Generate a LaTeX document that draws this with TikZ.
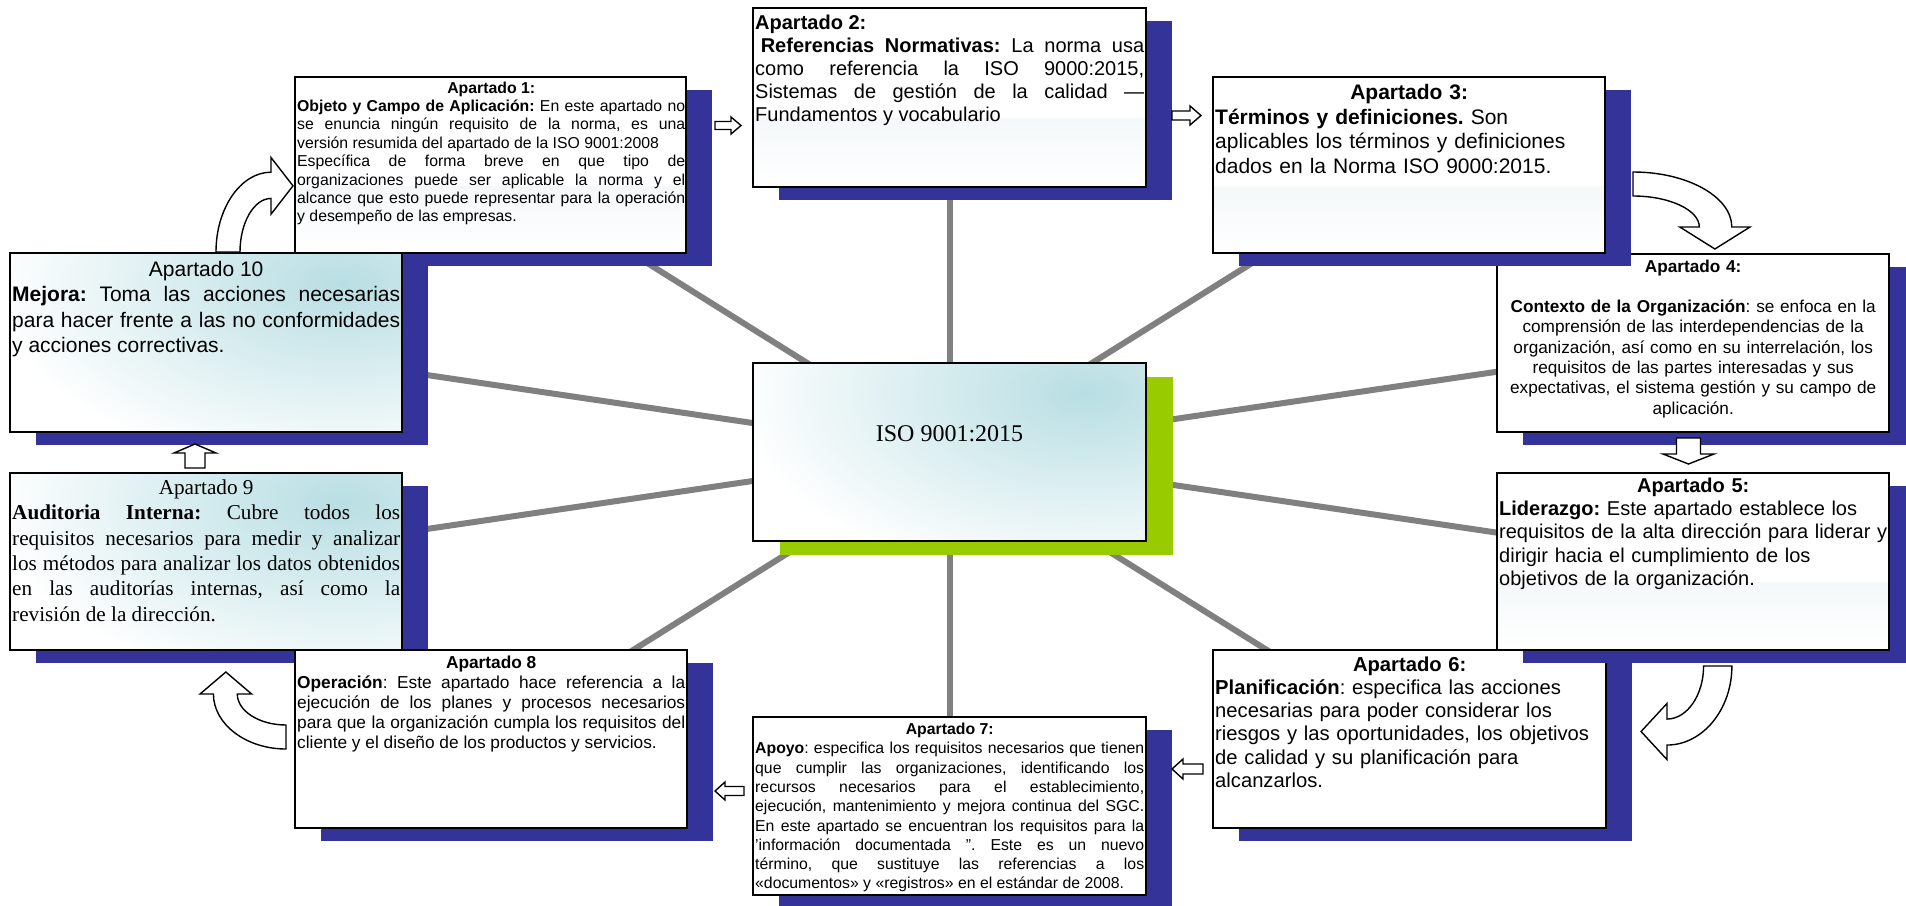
\documentclass[tikz,border=0pt]{standalone}
\usepackage{fontspec}
\setmainfont{Liberation Sans}
\newfontfamily\tnr{Liberation Serif}
\usetikzlibrary{shadows,backgrounds,calc}
\definecolor{sblue}{RGB}{51,51,153}
\definecolor{sgreen}{RGB}{153,204,0}
\definecolor{cgray}{RGB}{128,128,128}
\definecolor{tealc}{RGB}{184,222,227}
\definecolor{tintc}{RGB}{226,237,240}
\frenchspacing
\tikzset{
 panel/.style={draw=black, line width=1.5pt, fill=white, anchor=north west, inner sep=0pt, outer sep=0pt,
   drop shadow={shadow xshift=26pt, shadow yshift=-13pt, fill=sblue, opacity=1}},
 tealfill/.style={path picture={\shade[inner color=tealc, outer color=white]
   ([xshift=-60pt, yshift=-30pt]path picture bounding box.north east) ellipse [x radius=350, y radius=190];}},
 cpanel/.style={draw=black, line width=1.5pt, fill=white, anchor=north west, inner sep=0pt, outer sep=0pt,
   tealfill, drop shadow={shadow xshift=27pt, shadow yshift=-14pt, fill=sgreen, opacity=1}},
 tinted/.style={path picture={\shade[top color=tintc, bottom color=white]
   ($(path picture bounding box.north west)!0.62!(path picture bounding box.south west)$)
   rectangle (path picture bounding box.south east);}},
 conn/.style={draw=cgray, line width=6pt},
 txt/.style={inner sep=0pt, anchor=base west},
 carr/.style={draw=black, line width=1.4pt, fill=white, line join=miter},
}
\newcommand\sarr[7]{\draw[carr, shift={(#1,#2)}, rotate=#3] (-#4,-#5) -- ({#4-#7},-#5) -- ({#4-#7},-#6) -- (#4,0) -- ({#4-#7},#6) -- ({#4-#7},#5) -- (-#4,#5) -- cycle;}
\newcommand\carrow[5]{\draw[carr, shift={(#1,#2)}, rotate=#3, xscale=#4, yscale=#5] (-55,0) .. controls (-55,-42) and (-30,-76) .. (0,-76) -- (0,-90) -- (22,-63) -- (0,-36) -- (0,-51) .. controls (-17,-51) and (-31,-28) .. (-31,0) -- cycle;}
\newcommand\ttl[1]{\centerline{#1}\par}
\begin{document}
\begin{tikzpicture}[x=1pt,y=-1pt]
\useasboundingbox (0,0) rectangle (1906,905);
% panels (order matters for overlaps)
\node[panel, tinted, minimum width=393, minimum height=179] (b2) at (753,8) {};
\node[panel, minimum width=392, minimum height=178] (b4) at (1497,254) {};
\node[panel, tinted, minimum width=392, minimum height=176] (b3) at (1213,77) {};
\node[panel, minimum width=393, minimum height=178] (b6) at (1213,650) {};
\node[panel, tinted, minimum width=392, minimum height=177] (b5) at (1497,473) {};
\node[panel, minimum width=393, minimum height=178] (b7) at (753,717) {};
\node[panel, tinted, minimum width=391, minimum height=176] (b1) at (295,77) {};
\node[panel, tealfill, minimum width=392, minimum height=179] (b10) at (10,253) {};
\node[panel, tealfill, minimum width=392, minimum height=177] (b9) at (10,473) {};
\node[panel, minimum width=392, minimum height=178] (b8) at (295,650) {};
\node[cpanel, minimum width=393, minimum height=178] (c) at (753,363) {};
% connectors
\begin{scope}[on background layer]
\fill[white] (0,0) rectangle (1906,905);
\foreach \bx in {b1,b2,b3,b4,b5,b6,b7,b8,b9,b10} \draw[conn] (c.center) -- (\bx.center);
\end{scope}
% texts
\node[txt, text width=388, align=justify, font=\fontsize{15.8}{18.4}\selectfont] (t1) at (297,93) {\ttl{\bfseries Apartado 1:}\textbf{Objeto y Campo de Aplicación:} En este apartado no\linebreak se enuncia ningún requisito de la norma, es una\linebreak versión resumida del apartado de la ISO 9001:2008\par Específica de forma breve en que tipo de\linebreak organizaciones puede ser aplicable la norma y el\linebreak alcance que esto puede representar para la operación\linebreak y desempeño de las empresas.};
\node[txt, text width=389, align=justify, font=\fontsize{20}{23}\selectfont] (t2) at (755,29) {\textbf{Apartado 2:}\par\hspace*{.28em}\textbf{Referencias Normativas:} La norma usa\linebreak como referencia la ISO 9000:2015,\linebreak Sistemas de gestión de la calidad —\linebreak Fundamentos y vocabulario};
\node[txt, text width=388, align=left, font=\fontsize{21}{24.5}\selectfont] (t3) at (1215,99.5) {\ttl{\bfseries Apartado 3:}\textbf{Términos y definiciones.} Son\\aplicables los términos y definiciones\\dados en la Norma ISO 9000:2015.};
\node[txt, text width=388, align=center, font=\fontsize{17.2}{20.3}\selectfont] (t4) at (1499,272) {\textbf{Apartado 4:}\\\mbox{}\\\textbf{Contexto de la Organización}: se enfoca en la\\comprensión de las interdependencias de la\\organización, así como en su interrelación, los\\requisitos de las partes interesadas y sus\\expectativas, el sistema gestión y su campo de\\aplicación.};
\node[txt, text width=388, align=left, font=\fontsize{20}{23.4}\selectfont] (t5) at (1499,492) {\ttl{\bfseries Apartado 5:}\textbf{Liderazgo:} Este apartado establece los\\requisitos de la alta dirección para liderar y\\dirigir hacia el cumplimiento de los\\objetivos de la organización.};
\node[txt, text width=389, align=left, font=\fontsize{20.2}{23.3}\selectfont] (t6) at (1215,671) {\ttl{\bfseries Apartado 6:}\textbf{Planificación}: especifica las acciones\\necesarias para poder considerar los\\riesgos y las oportunidades, los objetivos\\de calidad y su planificación para\\alcanzarlos.};
\node[txt, text width=389, align=justify, font=\fontsize{15.8}{19.3}\selectfont] (t7) at (755,734.5) {\ttl{\bfseries Apartado 7:}\textbf{Apoyo}: especifica los requisitos necesarios que tienen\linebreak que cumplir las organizaciones, identificando los\linebreak recursos necesarios para el establecimiento,\linebreak ejecución, mantenimiento y mejora continua del SGC.\linebreak En este apartado se encuentran los requisitos para la\linebreak 'información documentada ". Este es un nuevo\linebreak término, que sustituye las referencias a los\linebreak «documentos» y «registros» en el estándar de 2008.};
\node[txt, text width=388, align=justify, font=\fontsize{17.3}{20}\selectfont] (t8) at (297,668.5) {\ttl{\bfseries Apartado 8}\textbf{Operación}: Este apartado hace referencia a la\linebreak ejecución de los planes y procesos necesarios\linebreak para que la organización cumpla los requisitos del\linebreak cliente y el diseño de los productos y servicios.};
\node[txt, text width=388, align=justify, font=\tnr\fontsize{21.2}{25.3}\selectfont] (t9) at (12,494.5) {\ttl{Apartado 9}\textbf{Auditoria Interna:} Cubre todos los\linebreak requisitos necesarios para medir y analizar\linebreak los métodos para analizar los datos obtenidos\linebreak en las auditorías internas, así como la\linebreak revisión de la dirección.};
\node[txt, text width=388, align=justify, font=\fontsize{21}{25.5}\selectfont] (t10) at (12,276) {\ttl{Apartado 10}\textbf{Mejora:} Toma las acciones necesarias\linebreak para hacer frente a las no conformidades\linebreak y acciones correctivas.};
\node[inner sep=0pt, font=\tnr\fontsize{24}{28}\selectfont] (ct) at (949.5,434) {ISO 9001:2015};
% straight block arrows
\sarr{728}{125.5}{0}{13}{4}{8.5}{10}
\sarr{1186.5}{115.5}{0}{14.5}{4.5}{9.5}{11}
\sarr{1688.5}{451}{-90}{13}{12}{25.5}{10}
\sarr{1187.5}{769}{180}{15.5}{5}{10}{11}
\sarr{729.5}{791}{180}{14.5}{4.5}{9}{10}
\sarr{195}{456}{90}{12}{10}{21}{9}
% curved block arrows
\carrow{271}{252}{0}{1}{1.05}
\carrow{1633}{227}{-90}{1}{1.3}
\carrow{1667}{666}{180}{1.18}{1.04}
\carrow{286}{694}{90}{1}{0.955}
\end{tikzpicture}
\end{document}
